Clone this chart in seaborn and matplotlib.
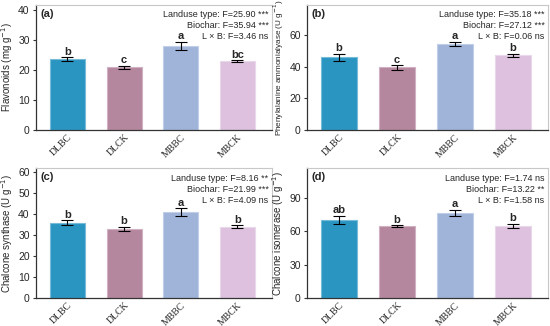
import numpy as np
import pandas as pd
import matplotlib
matplotlib.use("Agg")
import matplotlib.pyplot as plt
import seaborn as sns

sns.set_style("white")
plt.rcParams['font.family'] = ['Liberation Sans', 'DejaVu Sans']

categories = ["DLBC", "DLCK", "MBBC", "MBCK"]
colors = ["#2B95C2", "#B5879F", "#A0B4DA", "#DDC1DF"]

flavonoids = [23.5, 20.8, 28.0, 22.9]
flavonoids_err = [0.6, 0.5, 1.3, 0.2]
flavonoids_letters = ["b", "c", "a", "bc"]

pal_vals = [46.0, 39.5, 54.5, 47.2]
pal_err = [2.3, 1.5, 1.2, 0.8]
pal_letters = ["b", "c", "a", "b"]

chs_vals = [35.8, 33.0, 41.0, 34.0]
chs_err = [1.2, 1.0, 1.7, 0.6]
chs_letters = ["b", "b", "a", "b"]

chi_vals = [70.5, 64.5, 76.5, 64.8]
chi_err = [3.5, 1.0, 2.8, 2.0]
chi_letters = ["ab", "b", "a", "b"]

panels = [
    dict(tag="(a)", vals=flavonoids, err=flavonoids_err, letters=flavonoids_letters,
         ylabel="Flavonoids (mg g$^{-1}$)", ylsize=7, ylim=41.5, ticks=[0, 10, 20, 30, 40],
         stats=["Landuse type: F=25.90 ***", "Biochar: F=35.94 ***", "L × B: F=3.46 ns"]),
    dict(tag="(b)", vals=pal_vals, err=pal_err, letters=pal_letters,
         ylabel="Phenylalanine ammonialyase (U g$^{-1}$)", ylsize=5.9, ylim=79, ticks=[0, 20, 40, 60],
         stats=["Landuse type: F=35.18 ***", "Biochar: F=27.12 ***", "L × B: F=0.06 ns"]),
    dict(tag="(c)", vals=chs_vals, err=chs_err, letters=chs_letters,
         ylabel="Chalcone synthase (U g$^{-1}$)", ylsize=7, ylim=62, ticks=[0, 10, 20, 30, 40, 50, 60],
         stats=["Landuse type: F=8.16 **", "Biochar: F=21.99 ***", "L × B: F=4.09 ns"]),
    dict(tag="(d)", vals=chi_vals, err=chi_err, letters=chi_letters,
         ylabel="Chalcone isomerase (U g$^{-1}$)", ylsize=7, ylim=117, ticks=[0, 30, 60, 90],
         stats=["Landuse type: F=1.74 ns", "Biochar: F=13.22 **", "L × B: F=1.58 ns"]),
]

fig = plt.figure(figsize=(5.5, 3.26), dpi=100)
W, H = 550, 326
boxes = [(36, 5, 272, 130), (307, 5, 548, 130), (36, 168, 272, 298), (307, 168, 548, 298)]

for p, (x0, y0, x1, y1) in zip(panels, boxes):
    ax = fig.add_axes([x0 / W, 1 - y1 / H, (x1 - x0) / W, (y1 - y0) / H])
    df = pd.DataFrame({"group": categories, "value": p["vals"]})
    sns.barplot(data=df, x="group", y="value", hue="group", palette=colors,
                order=categories, hue_order=categories, legend=False,
                width=0.62, ax=ax, errorbar=None, saturation=1,
                linewidth=0.8)
    for patch, c in zip(ax.patches, colors):
        rgb = np.array(matplotlib.colors.to_rgb(c))
        patch.set_edgecolor(tuple(rgb + (1 - rgb) * 0.35))
    xs = np.arange(len(categories))
    ax.errorbar(xs, p["vals"], yerr=p["err"], fmt="none", ecolor="black",
                elinewidth=0.8, capsize=4, capthick=0.8)
    for x, v, e, l in zip(xs, p["vals"], p["err"], p["letters"]):
        ax.text(x, v + e + p["ylim"] * 0.005, l, ha="center", va="bottom",
                fontsize=8, fontweight="bold")
    ax.set_xlim(-0.556, 3.61)
    ax.set_ylim(0, p["ylim"])
    ax.set_yticks(p["ticks"])
    ax.set_xlabel("")
    ax.set_ylabel(p["ylabel"], fontsize=p["ylsize"], labelpad=2)
    ax.tick_params(axis="y", labelsize=7.5, length=2.5, width=0.8, pad=2, left=True, color="#333333")
    ax.tick_params(axis="x", length=0, pad=2)
    ax.set_xticks(xs)
    ax.set_xticklabels(categories, rotation=45, ha="right", rotation_mode="anchor",
                       fontsize=7, family="Liberation Serif")
    for s in ["left", "bottom"]:
        ax.spines[s].set_color("#333333")
        ax.spines[s].set_linewidth(0.9)
    for s in ["top", "right"]:
        ax.spines[s].set_color("#c8c8c8")
        ax.spines[s].set_linewidth(0.8)
    ax.text(0.02, 0.93, p["tag"], transform=ax.transAxes, fontsize=8,
            fontweight="bold", ha="left", va="center")
    for i, s in enumerate(p["stats"]):
        ax.text(0.985, 0.92 - i * 0.085, s, transform=ax.transAxes, fontsize=6.5,
                ha="right", va="center")

fig.savefig("out.png", dpi=100)
